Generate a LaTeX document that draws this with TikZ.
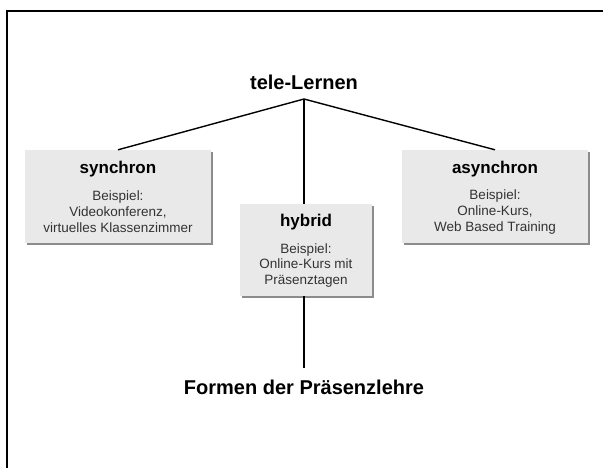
\documentclass[tikz,border=0pt]{standalone}
\usepackage{fontspec}
\setmainfont{Liberation Sans}
\usetikzlibrary{shadows}
\definecolor{boxfill}{RGB}{233,233,233}
\definecolor{shadowgray}{RGB}{140,140,140}
\begin{document}
\begin{tikzpicture}[x=1pt,y=-1pt,
  conn/.style={line width=1.4pt,black},
  frameline/.style={line width=2pt,black},
  catbox/.style={rectangle,fill=boxfill,draw=none,inner sep=0pt,
    drop shadow={shadow xshift=2pt,shadow yshift=-2pt,fill=shadowgray,opacity=1}},
  bigtitle/.style={font=\fontsize{20}{23}\selectfont\bfseries,inner sep=0pt},
  boxtitle/.style={font=\fontsize{17}{20}\selectfont\bfseries,inner sep=0pt},
  boxbody/.style={font=\fontsize{13.5}{16}\selectfont,text=black!80,align=center,inner sep=0pt}
]
\useasboundingbox (0,0) rectangle (603,467);
\fill[white] (0,0) rectangle (603,467);
\draw[frameline] (7,470) -- (7,11) -- (606,11);

\node[bigtitle] (tl) at (304,82) {tele-Lernen};
\coordinate (J) at (304,99);

\node[catbox,minimum width=186pt,minimum height=93pt] (syn) at (118,196.5) {};
\node[catbox,minimum width=186pt,minimum height=93pt] (asyn) at (495,196.5) {};
\node[catbox,minimum width=132pt,minimum height=92pt] (hyb) at (306,250) {};

\node[boxtitle] (synT) at (118,169) {synchron};
\node[boxbody] (synB) at (118,212) {Beispiel:\\Videokonferenz,\\virtuelles Klassenzimmer};

\node[boxtitle] (asynT) at (495,169) {asynchron};
\node[boxbody] (asynB) at (495,212) {Beispiel:\\Online-Kurs,\\Web Based Training};

\node[boxtitle] (hybT) at (306,222) {hybrid};
\node[boxbody,font=\fontsize{13.5}{15.5}\selectfont] (hybB) at (306,265.5) {Beispiel:\\Online-Kurs mit\\Präsenztagen};

\node[bigtitle] (form) at (304,387) {Formen der Präsenzlehre};
\coordinate (E) at (304,368);

\draw[conn] (J) -- (syn.north);
\draw[conn] (J) -- (asyn.north);
\draw[conn] (J) -- (J |- hyb.north);
\draw[conn] (J |- hyb.south) -- (E);
\end{tikzpicture}
\end{document}
